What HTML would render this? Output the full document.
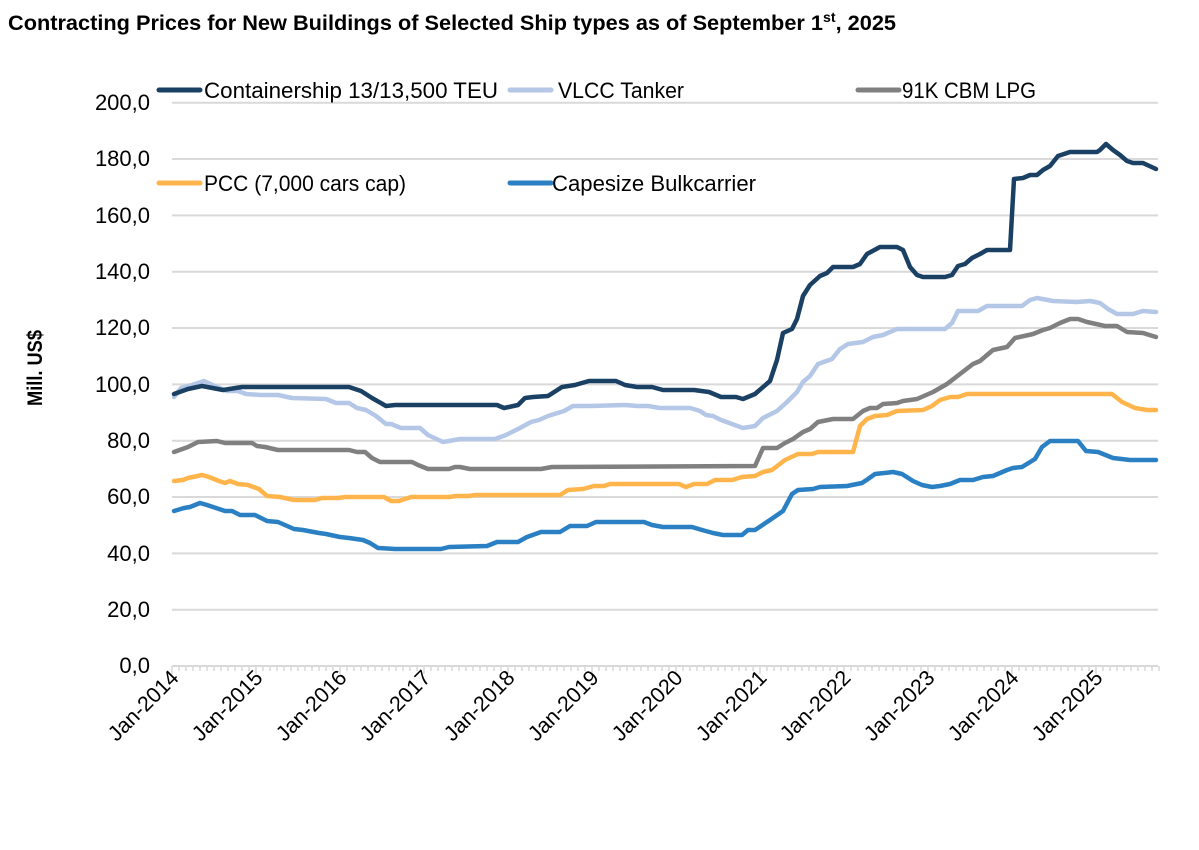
<!DOCTYPE html>
<html><head><meta charset="utf-8"><style>
body{margin:0;background:#fff;}
svg{font-family:"Liberation Sans",sans-serif;}
</style></head><body>
<svg width="1199" height="845" viewBox="0 0 1199 845" xmlns="http://www.w3.org/2000/svg">
<rect width="1199" height="845" fill="#fff"/>
<text x="8" y="30" font-size="21.5" font-weight="bold" fill="#000" textLength="888" lengthAdjust="spacingAndGlyphs">Contracting Prices for New Buildings of Selected Ship types as of September 1<tspan font-size="14" dy="-8">st</tspan><tspan dy="8">, 2025</tspan></text>
<g stroke="#d9d9d9" stroke-width="2">
<line x1="172" x2="1158" y1="102.7" y2="102.7"/><line x1="172" x2="1158" y1="159" y2="159"/><line x1="172" x2="1158" y1="215.4" y2="215.4"/><line x1="172" x2="1158" y1="271.7" y2="271.7"/><line x1="172" x2="1158" y1="328" y2="328"/><line x1="172" x2="1158" y1="384.4" y2="384.4"/><line x1="172" x2="1158" y1="440.7" y2="440.7"/><line x1="172" x2="1158" y1="497" y2="497"/><line x1="172" x2="1158" y1="553.4" y2="553.4"/><line x1="172" x2="1158" y1="609.7" y2="609.7"/><line x1="172" x2="1158" y1="666" y2="666"/>
</g>
<g id="ticks" stroke="#d9d9d9" stroke-width="1.5"></g>
<g font-size="22" fill="#000" text-anchor="end">
<text x="150" y="110">200,0</text><text x="150" y="166">180,0</text><text x="150" y="223">160,0</text><text x="150" y="279">140,0</text><text x="150" y="335">120,0</text><text x="150" y="392">100,0</text><text x="150" y="448">80,0</text><text x="150" y="504">60,0</text><text x="150" y="561">40,0</text><text x="150" y="617">20,0</text><text x="150" y="673">0,0</text>
</g>
<text transform="translate(42,368) rotate(-90)" font-size="21" font-weight="bold" text-anchor="middle" textLength="76" lengthAdjust="spacingAndGlyphs">Mill. US$</text>
<g id="xl" font-size="21.5" fill="#000" text-anchor="end"></g>
<g fill="none" stroke-width="4.5" stroke-linejoin="round" stroke-linecap="round">
<polyline stroke="#2a80c2" points="174,511 184,508 190,507 200,503 207,505 219,509 225,511 232,511 240,515 255,515 267,521 278,522 294,529 303,530 319,533 326,534 340,537 349,538 363,540 370,543 378,548 395,549 441,549 449,547 487,546 497,542 518,542 527,537 541,532 560,532 570,526 587,526 596,522 644,522 652,525 663,527 692,527 702,530 713,533 723,535 742,535 748,530 755,530 770,520 783,511 792,494 798,490 813,489 820,487 847,486 862,483 868,479 875,474 893,472 902,474 913,481 922,485 932,487 940,486 950,484 960,480 973,480 983,477 993,476 1007,470 1013,468 1022,467 1035,459 1042,447 1050,441 1078,441 1086,451 1098,452 1113,458 1130,460 1156,460"/>
<polyline stroke="#ffb54c" points="174,481 183,480 188,478 202,475 209,477 219,481 225,483 230,481 238,484 248,485 259,489 267,496 280,497 294,500 315,500 322,498 338,498 345,497 384,497 391,501 399,501 411,497 449,497 456,496 468,496 476,495 560,495 568,490 583,489 594,486 604,486 610,484 679,484 686,487 694,484 707,484 715,480 732,480 742,477 755,476 763,472 772,470 785,460 798,454 812,454 818,452 853,452 860,426 867,419 875,416 887,415 897,411 923,410 932,406 940,400 950,397 958,397 967,394 1112,394 1122,402 1135,408 1147,410 1156,410"/>
<polyline stroke="#808080" points="174,452 188,447 198,442 217,441 225,443 252,443 257,446 265,447 278,450 349,450 357,452 365,452 372,458 380,462 412,462 418,465 428,469 449,469 455,467 460,467 470,469 541,469 552,467 755,466 763,448 777,448 785,443 793,439 803,432 810,429 818,422 833,419 853,419 863,411 870,408 877,408 883,404 897,403 903,401 917,399 933,392 947,384 960,374 973,364 980,361 993,350 1007,347 1015,338 1033,334 1043,330 1050,328 1060,323 1070,319 1078,319 1087,322 1105,326 1117,326 1127,332 1143,333 1156,337"/>
<polyline stroke="#b4c7e7" points="174,397 181,388 192,385 204,381 217,387 227,391 238,391 246,394 261,395 278,395 292,398 326,399 336,403 349,403 357,408 366,410 376,416 386,424 391,424 401,428 420,428 428,435 443,442 449,441 460,439 495,439 506,435 520,428 531,422 539,420 548,416 564,411 573,406 591,406 625,405 637,406 648,406 660,408 690,408 700,411 706,415 713,416 721,420 732,424 743,428 755,426 763,418 777,411 787,402 797,392 803,382 810,376 818,364 832,359 840,349 848,344 863,342 873,337 883,335 897,329 945,329 952,323 958,311 978,311 987,306 1022,306 1030,300 1037,298 1053,301 1077,302 1090,301 1100,303 1108,309 1117,314 1133,314 1143,311 1156,312"/>
<polyline stroke="#1a4063" points="174,394 188,389 202,386 223,390 242,387 349,387 361,391 372,398 386,406 395,405 497,405 504,408 518,405 525,398 533,397 548,396 562,387 575,385 589,381 616,381 625,385 637,387 652,387 663,390 694,390 709,392 721,397 736,397 743,399 755,394 770,381 777,360 783,333 792,329 797,319 803,296 810,285 820,276 827,273 833,267 853,267 860,264 867,254 880,247 897,247 903,250 910,267 917,275 923,277 945,277 952,275 958,266 965,264 972,258 980,254 987,250 1010,250 1014,179 1023,178 1030,175 1037,175 1043,170 1050,166 1058,156 1070,152 1097,152 1100,150 1106,144 1113,150 1120,155 1127,161 1133,163 1143,163 1156,169"/>
</g>
<g stroke-width="5" stroke-linecap="round">
<line x1="159" x2="200" y1="90" y2="90" stroke="#1a4063"/>
<line x1="510" x2="551" y1="90" y2="90" stroke="#b4c7e7"/>
<line x1="858" x2="899" y1="90" y2="90" stroke="#808080"/>
<line x1="159" x2="200" y1="183" y2="183" stroke="#ffb54c"/>
<line x1="510" x2="551" y1="183" y2="183" stroke="#2a80c2"/>
</g>
<g font-size="22" fill="#000">
<text x="204" y="98" textLength="294" lengthAdjust="spacingAndGlyphs">Containership 13/13,500 TEU</text>
<text x="558" y="98" textLength="126" lengthAdjust="spacingAndGlyphs">VLCC Tanker</text>
<text x="902" y="98" textLength="134" lengthAdjust="spacingAndGlyphs">91K CBM LPG</text>
<text x="204" y="191" textLength="202" lengthAdjust="spacingAndGlyphs">PCC (7,000 cars cap)</text>
<text x="552" y="191" textLength="204" lengthAdjust="spacingAndGlyphs">Capesize Bulkcarrier</text>
</g>
<script>
var t=document.getElementById('ticks'),xl=document.getElementById('xl'),ns='http://www.w3.org/2000/svg';
for(var i=0;i<=141;i++){var x=172+i*7;var l=document.createElementNS(ns,'line');l.setAttribute('x1',x);l.setAttribute('x2',x);l.setAttribute('y1',666);l.setAttribute('y2',i%12==0?674:671);t.appendChild(l);}
for(var y=0;y<12;y++){var x=172+y*84;var tx=document.createElementNS(ns,'text');tx.setAttribute('transform','translate('+(x+8)+',679) rotate(-45)');tx.textContent='Jan-'+(2014+y);xl.appendChild(tx);}
</script>
</svg>
</body></html>
